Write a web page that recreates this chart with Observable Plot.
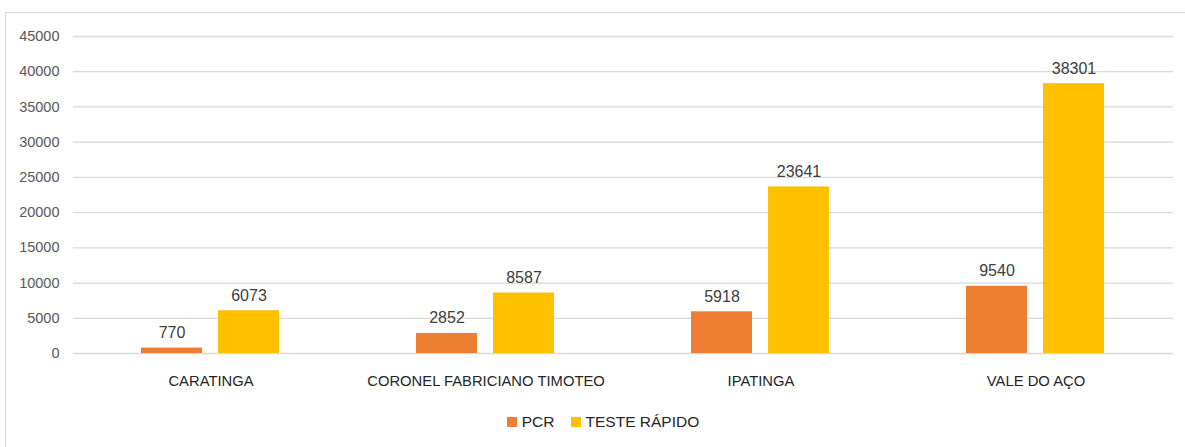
<!DOCTYPE html>
<html>
<head>
<meta charset="utf-8">
<script src="https://cdn.jsdelivr.net/npm/d3@7"></script>
<script src="https://cdn.jsdelivr.net/npm/@observablehq/plot@0.6"></script>
<style>
  html, body { margin: 0; padding: 0; background: #fff; overflow: hidden; width: 1185px; height: 447px; }
  #frame { position: absolute; left: 5px; top: 12px; width: 1220px; height: 500px; border: 1px solid #d9d9d9; box-sizing: border-box; }
  #chart { position: absolute; left: 0; top: 0; }
  #legend { position: absolute; left: 0; top: 413px; width: 1185px; display: flex; justify-content: center; align-items: center; font-family: "Liberation Sans", sans-serif; font-size: 15.5px; color: #262626; padding-left: 21px; box-sizing: border-box; }
  .item { display: flex; align-items: center; margin: 0 8px; }
  .sw { width: 10px; height: 10px; margin-right: 5px; }
</style>
</head>
<body>
<div id="frame"></div>
<div id="chart"></div>
<div id="legend"></div>
<script>
const categories = ["CARATINGA", "CORONEL FABRICIANO TIMOTEO", "IPATINGA", "VALE DO AÇO"];
const seriesNames = ["PCR", "TESTE RÁPIDO"];
const pcr = [770, 2852, 5918, 9540];
const testeRapido = [6073, 8587, 23641, 38301];
const yTicks = [0, 5000, 10000, 15000, 20000, 25000, 30000, 35000, 40000, 45000];
const colors = ["#ED7D31", "#FFC000"];

const data = [];
categories.forEach((c, i) => {
  data.push({category: c, series: seriesNames[0], value: pcr[i]});
  data.push({category: c, series: seriesNames[1], value: testeRapido[i]});
});

const chart = Plot.plot({
  width: 1185,
  height: 400,
  marginTop: 36,
  marginBottom: 47,
  marginLeft: 72,
  marginRight: 12,
  style: {fontFamily: "Liberation Sans, sans-serif", background: "transparent", overflow: "visible"},
  fx: {domain: categories, paddingInner: 0, paddingOuter: 0, label: null},
  x: {domain: seriesNames, paddingInner: 0.205, paddingOuter: 0.867, axis: null},
  y: {domain: [0, 45000], label: null},
  color: {domain: seriesNames, range: colors},
  marks: [
    Plot.ruleY(yTicks, {stroke: "#d9d9d9", strokeWidth: 1.3}),
    Plot.axisY({ticks: yTicks, tickSize: 0, tickPadding: 14, fontSize: 14.5, fill: "#595959", label: null, tickFormat: d => String(d)}),
    Plot.axisFx({anchor: "bottom", tickSize: 0, tickPadding: 22, fontSize: 14.8, fill: "#262626", label: null}),
    Plot.barY(data, {fx: "category", x: "series", y: "value", fill: "series"}),
    Plot.text(data, {fx: "category", x: "series", y: "value", text: d => String(d.value), dy: -10, lineAnchor: "bottom", fontSize: 16, fill: "#404040"})
  ]
});
document.getElementById("chart").appendChild(chart);

const legend = document.getElementById("legend");
seriesNames.forEach((s, i) => {
  const item = document.createElement("div");
  item.className = "item";
  const sw = document.createElement("div");
  sw.className = "sw";
  sw.style.background = colors[i];
  const t = document.createElement("span");
  t.textContent = s;
  item.appendChild(sw);
  item.appendChild(t);
  legend.appendChild(item);
});
</script>
</body>
</html>
